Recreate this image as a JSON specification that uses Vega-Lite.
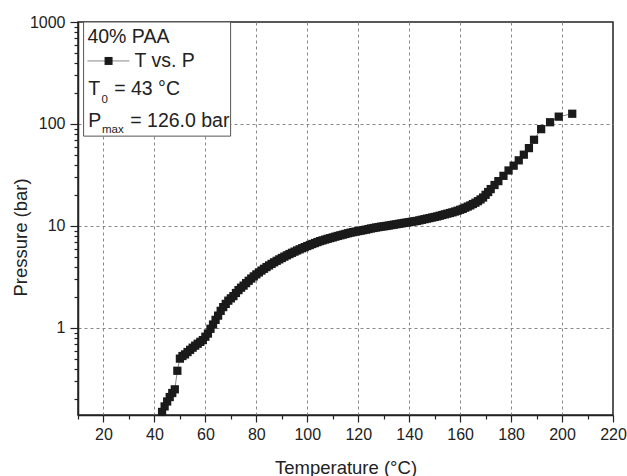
{
  "$schema": "https://vega.github.io/schema/vega-lite/v6.json",
  "autosize": "none",
  "width": 535,
  "height": 393,
  "padding": {"left": 78, "top": 22, "right": 14, "bottom": 61},
  "background": "white",
  "config": {
    "font": "Liberation Sans",
    "view": {"stroke": "#222", "strokeWidth": 1.5},
    "axis": {
      "domainColor": "#222",
      "domainWidth": 1.5,
      "tickColor": "#222",
      "tickWidth": 1.2,
      "labelFont": "Liberation Sans",
      "labelFontSize": 16,
      "labelColor": "#222",
      "titleFont": "Liberation Sans",
      "titleFontSize": 18.5,
      "titleFontWeight": "normal",
      "titleColor": "#222",
      "gridColor": "#888",
      "gridDash": [3, 3],
      "gridWidth": 1
    }
  },
  "datasets": {
    "curve": [
      {"T": 43, "P": 0.15}, {"T": 44, "P": 0.17}, {"T": 45, "P": 0.19}, {"T": 46, "P": 0.21},
      {"T": 47, "P": 0.23}, {"T": 48, "P": 0.25}, {"T": 49, "P": 0.38}, {"T": 50, "P": 0.5},
      {"T": 51, "P": 0.53}, {"T": 52, "P": 0.55}, {"T": 53, "P": 0.58}, {"T": 54, "P": 0.61},
      {"T": 55, "P": 0.64}, {"T": 56, "P": 0.67}, {"T": 57, "P": 0.7}, {"T": 58, "P": 0.73},
      {"T": 59, "P": 0.76}, {"T": 60, "P": 0.82}, {"T": 61, "P": 0.88}, {"T": 62, "P": 0.98},
      {"T": 63, "P": 1.08}, {"T": 64, "P": 1.2}, {"T": 65, "P": 1.32}, {"T": 66, "P": 1.47},
      {"T": 67, "P": 1.6}, {"T": 68, "P": 1.72}, {"T": 69, "P": 1.85}, {"T": 70, "P": 1.95},
      {"T": 71, "P": 2.05}, {"T": 72, "P": 2.2}, {"T": 73, "P": 2.35}, {"T": 74, "P": 2.48},
      {"T": 75, "P": 2.6}, {"T": 76, "P": 2.75}, {"T": 77, "P": 2.9}, {"T": 78, "P": 3.05},
      {"T": 79, "P": 3.2}, {"T": 80, "P": 3.35}, {"T": 81, "P": 3.5}, {"T": 82, "P": 3.65},
      {"T": 83, "P": 3.8}, {"T": 84, "P": 3.95}, {"T": 85, "P": 4.1}, {"T": 86, "P": 4.25},
      {"T": 87, "P": 4.4}, {"T": 88, "P": 4.55}, {"T": 89, "P": 4.7}, {"T": 90, "P": 4.85},
      {"T": 91, "P": 5.0}, {"T": 92, "P": 5.15}, {"T": 93, "P": 5.3}, {"T": 94, "P": 5.45},
      {"T": 95, "P": 5.6}, {"T": 96, "P": 5.75}, {"T": 97, "P": 5.9}, {"T": 98, "P": 6.05},
      {"T": 99, "P": 6.2}, {"T": 100, "P": 6.35}, {"T": 101, "P": 6.5}, {"T": 102, "P": 6.65},
      {"T": 103, "P": 6.8}, {"T": 104, "P": 6.95}, {"T": 105, "P": 7.1}, {"T": 106, "P": 7.22},
      {"T": 107, "P": 7.35}, {"T": 108, "P": 7.48}, {"T": 109, "P": 7.6}, {"T": 110, "P": 7.72},
      {"T": 111, "P": 7.85}, {"T": 112, "P": 7.98}, {"T": 113, "P": 8.1}, {"T": 114, "P": 8.22},
      {"T": 115, "P": 8.35}, {"T": 116, "P": 8.48}, {"T": 117, "P": 8.6}, {"T": 118, "P": 8.7},
      {"T": 119, "P": 8.8}, {"T": 120, "P": 8.9}, {"T": 121, "P": 9.0}, {"T": 122, "P": 9.1},
      {"T": 123, "P": 9.2}, {"T": 124, "P": 9.32}, {"T": 125, "P": 9.45}, {"T": 126, "P": 9.55},
      {"T": 127, "P": 9.65}, {"T": 128, "P": 9.75}, {"T": 129, "P": 9.85}, {"T": 130, "P": 9.92},
      {"T": 131, "P": 10.0}, {"T": 132, "P": 10.1}, {"T": 133, "P": 10.2}, {"T": 134, "P": 10.3},
      {"T": 135, "P": 10.4}, {"T": 136, "P": 10.5}, {"T": 137, "P": 10.6}, {"T": 138, "P": 10.7},
      {"T": 139, "P": 10.8}, {"T": 140, "P": 10.9}, {"T": 141, "P": 11.0}, {"T": 142, "P": 11.1},
      {"T": 143, "P": 11.2}, {"T": 144, "P": 11.35}, {"T": 145, "P": 11.5}, {"T": 146, "P": 11.65},
      {"T": 147, "P": 11.8}, {"T": 148, "P": 11.95}, {"T": 149, "P": 12.1}, {"T": 150, "P": 12.25},
      {"T": 151, "P": 12.4}, {"T": 152, "P": 12.6}, {"T": 153, "P": 12.8}, {"T": 154, "P": 13.0},
      {"T": 155, "P": 13.2}, {"T": 156, "P": 13.4}, {"T": 157, "P": 13.6}, {"T": 158, "P": 13.85},
      {"T": 159, "P": 14.1}, {"T": 160, "P": 14.4}, {"T": 161, "P": 14.7}, {"T": 162, "P": 15.1},
      {"T": 163, "P": 15.5}, {"T": 164, "P": 15.9}, {"T": 165, "P": 16.4}, {"T": 166, "P": 16.9},
      {"T": 167, "P": 17.5}, {"T": 168, "P": 18.2}, {"T": 169, "P": 19.0}, {"T": 170, "P": 20.2},
      {"T": 171, "P": 21.5}, {"T": 172, "P": 23}, {"T": 173.5, "P": 25.2}, {"T": 175, "P": 27.5},
      {"T": 177, "P": 31}, {"T": 179, "P": 35}, {"T": 181, "P": 39}, {"T": 183, "P": 44},
      {"T": 185, "P": 50}, {"T": 187, "P": 58}, {"T": 189, "P": 70}, {"T": 191.8, "P": 89},
      {"T": 195.3, "P": 104}, {"T": 198.7, "P": 118}, {"T": 204, "P": 126}
    ],
    "legend": [
      {"label": "40% PAA", "T": 13.7, "P": 623, "sz": "big"},
      {"label": "T vs. P", "T": 32.2, "P": 362, "sz": "big"},
      {"label": "T", "T": 14.0, "P": 192, "sz": "big"},
      {"label": "0", "T": 19.2, "P": 161, "sz": "small"},
      {"label": "= 43 °C", "T": 24.2, "P": 192, "sz": "big"},
      {"label": "P", "T": 14.0, "P": 93.5, "sz": "big"},
      {"label": "max", "T": 19.4, "P": 81.6, "sz": "small"},
      {"label": "= 126.0 bar", "T": 30.5, "P": 93.5, "sz": "big"}
    ],
    "box": [{"T": 12.2, "T2": 69.9, "P": 1000, "P2": 76}],
    "sample": [{"T": 13.7, "T2": 30.2, "P": 415}],
    "sampleMarker": [{"T": 22.0, "P": 415}]
  },
  "encoding": {
    "x": {
      "field": "T", "type": "quantitative",
      "scale": {"domain": [10, 220], "nice": false, "zero": false},
      "axis": {
        "title": "Temperature (°C)",
        "values": [10, 20, 30, 40, 50, 60, 70, 80, 90, 100, 110, 120, 130, 140, 150, 160, 170, 180, 190, 200, 210, 220],
        "labelExpr": "datum.value % 20 === 0 ? datum.label : ''",
        "tickSize": {"condition": {"test": "datum.value % 20 === 0", "value": 7}, "value": 4},
        "gridOpacity": {"condition": {"test": "datum.value % 20 === 0 && datum.value < 220", "value": 1}, "value": 0},
        "labelPadding": 4,
        "titleY": 58,
        "titleBaseline": "alphabetic",
        "labelFlush": false
      }
    },
    "y": {
      "field": "P", "type": "quantitative",
      "scale": {"type": "log", "domain": [0.14, 1000], "nice": false},
      "axis": {
        "title": "Pressure (bar)",
        "values": [0.2, 0.3, 0.4, 0.5, 0.6, 0.7, 0.8, 0.9, 1, 2, 3, 4, 5, 6, 7, 8, 9, 10, 20, 30, 40, 50, 60, 70, 80, 90, 100, 200, 300, 400, 500, 600, 700, 800, 900, 1000],
        "labelExpr": "(datum.value === 1 || datum.value === 10 || datum.value === 100 || datum.value === 1000) ? ('' + datum.value) : ''",
        "tickSize": {"condition": {"test": "datum.value === 1 || datum.value === 10 || datum.value === 100 || datum.value === 1000", "value": 8}, "value": 4},
        "gridOpacity": {"condition": {"test": "datum.value === 1 || datum.value === 10 || datum.value === 100", "value": 1}, "value": 0},
        "labelPadding": 5,
        "titleX": -58,
        "titleY": 215,
        "titleAngle": -90,
        "titleBaseline": "middle",
        "titleAlign": "center",
        "labelFlush": false
      }
    }
  },
  "layer": [
    {
      "data": {"name": "curve"},
      "mark": {"type": "line", "color": "#888", "strokeWidth": 1}
    },
    {
      "data": {"name": "curve"},
      "mark": {"type": "point", "shape": "square", "filled": true, "size": 68, "color": "#1a1a1a", "opacity": 1}
    },
    {
      "data": {"name": "box"},
      "mark": {"type": "rect", "fill": "white", "stroke": "#555", "strokeWidth": 1},
      "encoding": {"x2": {"field": "T2"}, "y2": {"field": "P2"}}
    },
    {
      "data": {"name": "sample"},
      "mark": {"type": "rule", "color": "#888", "strokeWidth": 1},
      "encoding": {"x2": {"field": "T2"}}
    },
    {
      "data": {"name": "sampleMarker"},
      "mark": {"type": "point", "shape": "square", "filled": true, "size": 64, "color": "#1a1a1a", "opacity": 1}
    },
    {
      "data": {"name": "legend"},
      "mark": {"type": "text", "align": "left", "baseline": "alphabetic", "color": "#222"},
      "encoding": {
        "text": {"field": "label"},
        "size": {"field": "sz", "type": "nominal", "scale": {"domain": ["big", "small"], "range": [19.5, 11.5]}, "legend": null}
      }
    }
  ]
}
